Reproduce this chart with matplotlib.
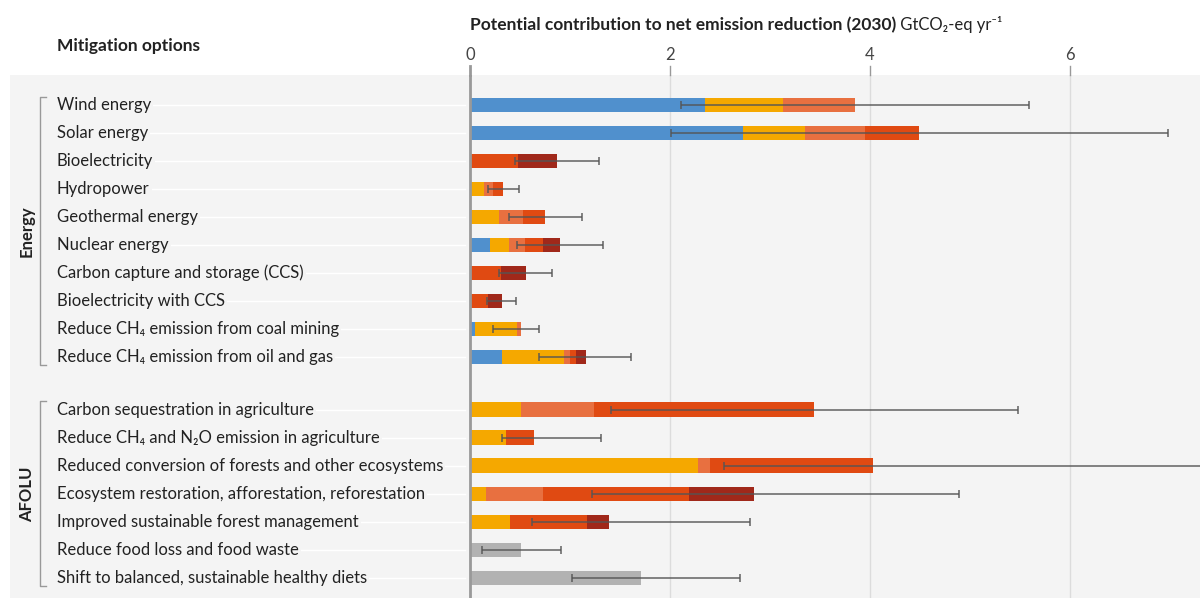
import matplotlib
matplotlib.use('Agg')
import matplotlib.pyplot as plt
import numpy as np

plt.rcParams['font.family'] = ['Lato', 'DejaVu Sans']

# mitigation options (top to bottom)
options = [
    'Wind energy', 'Solar energy', 'Bioelectricity', 'Hydropower', 'Geothermal energy',
    'Nuclear energy', 'Carbon capture and storage (CCS)', 'Bioelectricity with CCS',
    'Reduce CH₄ emission from coal mining', 'Reduce CH₄ emission from oil and gas',
    'Carbon sequestration in agriculture', 'Reduce CH₄ and N₂O emission in agriculture',
    'Reduced conversion of forests and other ecosystems',
    'Ecosystem restoration, afforestation, reforestation',
    'Improved sustainable forest management', 'Reduce food loss and food waste',
    'Shift to balanced, sustainable healthy diets',
]
sectors = ['Energy', 'AFOLU']
sector_sizes = [10, 7]

# segment widths by cost category (GtCO2-eq/yr)
cost_lt0 = [2.35, 2.73, 0, 0, 0, 0.20, 0, 0, 0.05, 0.32, 0, 0, 0, 0, 0, 0, 0]
cost_0_20 = [0.78, 0.62, 0, 0.14, 0.29, 0.19, 0, 0, 0.42, 0.62, 0.51, 0.36, 2.28, 0.16, 0.40, 0, 0]
cost_20_50 = [0.72, 0.60, 0, 0.09, 0.24, 0.16, 0, 0, 0.04, 0.06, 0.73, 0, 0.12, 0.57, 0, 0, 0]
cost_50_100 = [0, 0.54, 0.48, 0.10, 0.22, 0.18, 0.31, 0.18, 0, 0.06, 2.20, 0.28, 1.63, 1.46, 0.77, 0, 0]
cost_100_200 = [0, 0, 0.39, 0, 0, 0.17, 0.25, 0.14, 0, 0.10, 0, 0, 0, 0.65, 0.22, 0, 0]
cost_na = [0, 0, 0, 0, 0, 0, 0, 0, 0, 0, 0, 0, 0, 0, 0, 0.51, 1.71]

# uncertainty range
err_low = [2.11, 2.01, 0.45, 0.18, 0.39, 0.47, 0.29, 0.17, 0.23, 0.69,
           1.41, 0.32, 2.54, 1.22, 0.62, 0.12, 1.02]
err_high = [5.59, 6.98, 1.29, 0.49, 1.12, 1.33, 0.82, 0.46, 0.69, 1.61,
            5.48, 1.31, 7.6, 4.89, 2.80, 0.91, 2.70]

colors = ['#5090cd', '#f5a800', '#e87040', '#e04a12', '#a0281a', '#b2b2b2']
segments = [cost_lt0, cost_0_20, cost_20_50, cost_50_100, cost_100_200, cost_na]

# row positions: gap between sectors
ypos = np.array(list(range(10)) + [10.88 + i for i in range(7)])

fig = plt.figure(figsize=(12, 5.98), dpi=100)
ax = fig.add_axes([10 / 1200, 0, 1190 / 1200, 523 / 598])
ax.set_facecolor('#f4f4f4')
ax.set_xlim(-4.6, 7.3)
ax.set_ylim(17.6, -1.07)
for s in ax.spines.values():
    s.set_visible(False)
ax.set_yticks([])
ax.set_xticks([])

# grid lines
for g in [2, 4, 6]:
    ax.axvline(g, color='#dcdcdc', lw=1, zorder=1)
ax.axvline(0, color='#999999', lw=2, zorder=4)

# stacked bars
left = np.zeros(len(options))
for seg, c in zip(segments, colors):
    seg = np.array(seg)
    ax.barh(ypos, seg, left=left, height=0.52, color=c, edgecolor='none', zorder=2)
    left += seg

# error bars
lo = np.array(err_low)
hi = np.array(err_high)
ax.errorbar((lo + hi) / 2, ypos, xerr=(hi - lo) / 2, fmt='none', ecolor='#555555',
            elinewidth=1.2, capsize=3, capthick=1.2, alpha=0.85, zorder=3)

# row guides and labels
for y, name in zip(ypos, options):
    ax.plot([-4.1, -0.05], [y, y], color='white', lw=1, zorder=1)
    ax.text(-4.13, y, name, ha='left', va='center', fontsize=12, color='#222222',
            bbox=dict(facecolor='#f4f4f4', edgecolor='none', pad=1.5), zorder=2)

# sector brackets
start = 0
for name, n in zip(sectors, sector_sizes):
    y0 = ypos[start] - 0.3
    y1 = ypos[start + n - 1] + 0.3
    ax.plot([-4.24, -4.3, -4.3, -4.24], [y0, y0, y1, y1], color='#999999', lw=1, zorder=2)
    ax.text(-4.43, (y0 + y1) / 2, name, rotation=90, ha='center', va='center',
            fontsize=12, fontweight='bold', color='#222222')
    start += n

# top axis ticks and labels
for t in [0, 2, 4, 6]:
    ax.plot([t, t], [-1.07, -1.4], color='#999999', lw=1 if t else 2, clip_on=False)
    ax.text(t, -1.78, str(t), ha='center', va='center', fontsize=12, color='#444444')

fig.text(57 / 1200, 1 - 46 / 598, 'Mitigation options', ha='left', va='center',
         fontsize=12.5, fontweight='bold', color='#222222')
t1 = fig.text(470 / 1200, 1 - 25 / 598, 'Potential contribution to net emission reduction (2030)',
              ha='left', va='center', fontsize=12.5, fontweight='bold', color='#222222')
ax.annotate(' GtCO₂-eq yr⁻¹', xy=(1, 0), xycoords=t1, ha='left', va='bottom',
            fontsize=12, color='#222222', annotation_clip=False)

fig.savefig('out.png', dpi=100, facecolor='white')
